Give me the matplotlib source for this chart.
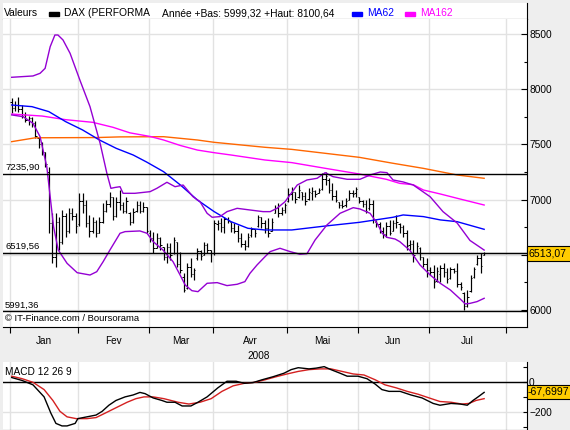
import matplotlib.pyplot as plt
from matplotlib.patches import Rectangle

plt.rcParams['font.family'] = ['Liberation Sans', 'DejaVu Sans']

W, H = 570, 430

# daily bars, DAX 2008 (trading-day index 0..140)
opens = [7880, 7830, 7860, 7820, 7770, 7720, 7740, 7690, 7560, 7500,
         7430, 7250, 6790, 6480, 6800, 6620, 6850, 6720, 6880, 6850,
         6780, 6990, 6950, 6790, 6720, 6800, 6700, 6800, 6900, 6960,
         7020, 6850, 6980, 6950, 6900, 6880, 6800, 6900, 6950, 6900,
         6930, 6700, 6650, 6560, 6650, 6570, 6480, 6570, 6520, 6620,
         6420, 6300, 6200, 6390, 6330, 6470, 6530, 6500, 6590, 6540,
         6520, 6780, 6790, 6750, 6820, 6800, 6740, 6720, 6650, 6600,
         6580, 6680, 6730, 6760, 6840, 6790, 6740, 6720, 6880, 6920,
         6880, 6910, 6990, 7050, 7070, 7020, 7070, 7030, 7010, 7060,
         7080, 7060, 7100, 7190, 7180, 7090, 7030, 6980, 6950, 6950,
         7000, 7060, 7060, 7020, 6990, 6960, 6920, 6960, 6800, 6780,
         6720, 6690, 6760, 6720, 6790, 6780, 6750, 6700, 6590, 6600,
         6520, 6560, 6480, 6420, 6360, 6340, 6260, 6330, 6380, 6340,
         6290, 6370, 6350, 6240, 6150, 6040, 6170, 6300, 6420, 6470,
         6500]
highs = [7917, 7890, 7932, 7860, 7790, 7760, 7750, 7710, 7570, 7520,
         7434, 7298, 6876, 6876, 6846, 6906, 6880, 6921, 6921, 6876,
         7057, 7057, 6997, 6861, 6846, 6816, 6846, 6966, 6997, 7072,
         7027, 7027, 7087, 6981, 7027, 6891, 6921, 6991, 6991, 6976,
         6936, 6725, 6710, 6695, 6665, 6574, 6604, 6604, 6665, 6620,
         6529, 6332, 6423, 6468, 6378, 6559, 6544, 6620, 6604, 6544,
         6816, 6816, 6831, 6846, 6846, 6800, 6785, 6770, 6695, 6635,
         6695, 6755, 6735, 6861, 6846, 6816, 6831, 6831, 6951, 6966,
         6936, 6966, 7102, 7117, 7072, 7132, 7072, 7072, 7102, 7117,
         7087, 7102, 7238, 7253, 7193, 7147, 7087, 6981, 6997, 7012,
         7087, 7087, 7117, 7027, 6997, 6997, 7012, 6997, 6816, 6800,
         6755, 6800, 6816, 6816, 6861, 6785, 6770, 6725, 6635, 6635,
         6620, 6574, 6484, 6468, 6393, 6408, 6393, 6408, 6423, 6378,
         6393, 6378, 6423, 6257, 6166, 6181, 6317, 6393, 6499, 6514,
         6528]
lows = [7781, 7800, 7797, 7740, 7700, 7680, 7660, 7555, 7470, 7400,
        7298, 6694, 6423, 6393, 6544, 6600, 6665, 6700, 6815, 6695,
        6760, 6876, 6755, 6665, 6695, 6665, 6695, 6785, 6890, 6936,
        6815, 6846, 6906, 6876, 6876, 6770, 6785, 6891, 6876, 6891,
        6695, 6620, 6514, 6560, 6544, 6453, 6423, 6453, 6510, 6393,
        6332, 6166, 6190, 6302, 6272, 6453, 6453, 6500, 6514, 6438,
        6499, 6725, 6710, 6695, 6785, 6710, 6695, 6620, 6574, 6544,
        6574, 6665, 6665, 6755, 6740, 6695, 6665, 6720, 6876, 6846,
        6861, 6876, 6981, 6997, 6966, 7012, 6997, 6951, 7000, 6997,
        7027, 7057, 7087, 7132, 7057, 6997, 6981, 6921, 6921, 6936,
        6997, 7027, 7027, 6966, 6936, 6876, 6906, 6785, 6755, 6695,
        6650, 6665, 6680, 6715, 6740, 6695, 6665, 6544, 6544, 6438,
        6514, 6453, 6393, 6302, 6317, 6197, 6250, 6257, 6302, 6242,
        6285, 6332, 6212, 6181, 5999, 6030, 6166, 6287, 6408, 6332,
        6499]
closes = [7830, 7860, 7820, 7760, 7720, 7740, 7690, 7580, 7500, 7430,
          7320, 6790, 6480, 6800, 6620, 6850, 6720, 6880, 6850, 6760,
          6990, 6950, 6790, 6720, 6800, 6700, 6800, 6900, 6960, 7020,
          6850, 6980, 6950, 6900, 6990, 6800, 6890, 6950, 6900, 6930,
          6720, 6650, 6560, 6650, 6590, 6480, 6570, 6500, 6630, 6420,
          6360, 6180, 6390, 6330, 6360, 6530, 6490, 6590, 6540, 6520,
          6790, 6790, 6750, 6820, 6810, 6740, 6720, 6650, 6600, 6580,
          6660, 6730, 6700, 6840, 6790, 6740, 6700, 6800, 6920, 6880,
          6910, 6950, 7050, 7070, 7010, 7090, 7030, 6990, 7070, 7080,
          7050, 7090, 7190, 7210, 7090, 7030, 7000, 6950, 6940, 6990,
          7060, 7050, 7100, 6990, 6960, 6900, 6960, 6820, 6780, 6720,
          6690, 6760, 6700, 6790, 6800, 6750, 6700, 6580, 6600, 6500,
          6580, 6480, 6420, 6360, 6340, 6250, 6350, 6380, 6340, 6280,
          6370, 6350, 6240, 6210, 6040, 6120, 6290, 6370, 6470, 6400,
          6513.07]

# moving averages / bands (bar index, value)
ma62_x = [0, 6, 11, 16, 21, 26, 31, 36, 40, 45, 50, 55, 60, 65, 70, 75,
          83, 93, 103, 113, 116, 122, 127, 132, 140]
ma62_y = [7857, 7842, 7797, 7706, 7631, 7540, 7464, 7404, 7340, 7253, 7132,
          6997, 6891, 6800, 6740, 6725, 6725, 6761, 6794, 6840, 6861, 6846,
          6816, 6800, 6731]
ma162_x = [0, 9, 16, 24, 30, 35, 41, 45, 50, 55, 60, 65, 75, 83, 93, 103,
           111, 115, 119, 122, 127, 132, 140]
ma162_y = [7775, 7757, 7724, 7700, 7655, 7605, 7572, 7540, 7490, 7449, 7425,
           7404, 7359, 7335, 7283, 7232, 7184, 7147, 7135, 7087, 7051, 7012,
           6951]
ma_orange_x = [0, 7, 25, 32, 45, 55, 60, 68, 75, 83, 93, 103, 113, 122,
               132, 140]
ma_orange_y = [7525, 7560, 7562, 7568, 7570, 7540, 7519, 7495, 7474, 7455,
               7419, 7383, 7329, 7283, 7223, 7193]
bb_up_x = [0, 6.3, 8.4, 9.9, 11.4, 12.8, 13.7, 15.2, 17.3, 20.2, 23.2, 26.2,
           28.2, 29.4, 30.6, 32.1, 33, 36.5, 41, 43, 46, 48.4, 50.8, 53.7,
           55.8, 57.9, 59.4, 61.7, 63.8, 66.8, 70.6, 74.5, 76.6, 78.6, 81,
           84.6, 87.5, 90.5, 92.9, 95.2, 99.4, 103.2, 106.2, 109.2, 111.2,
           113, 116, 119, 124, 127.8, 132, 135.8, 140]
bb_up_y = [8108, 8120, 8144, 8189, 8385, 8491, 8491, 8446, 8325, 8083, 7842,
           7510, 7238, 7102, 7110, 7117, 7057, 7057, 7072, 7102, 7157, 7117,
           7132, 7027, 6981, 6876, 6840, 6846, 6891, 6921, 6906, 6891, 6891,
           6921, 6981, 7132, 7178, 7193, 7244, 7208, 7184, 7184, 7223, 7250,
           7244, 7178, 7160, 7132, 7026, 6891, 6788, 6630, 6543]
bb_lo_x = [0, 3.4, 6.3, 8.4, 10.4, 11.4, 12.4, 13.8, 16.4, 19.4, 23.2, 25.2,
           27.1, 29.1, 32.1, 33.6, 38, 40.1, 41.9, 44.8, 47.8, 49.9, 51.4,
           53.4, 55.2, 57.9, 60.9, 63.8, 66.8, 69.1, 70.6, 72.7, 75.1, 76.6,
           79.5, 82.5, 85.4, 87.5, 89.9, 93.4, 97.3, 101.2, 103.2, 106.2,
           108.3, 109.8, 111.2, 113.6, 115, 118, 121, 124, 127, 130, 133,
           134.4, 135.8, 137.9, 140]
bb_lo_y = [7767, 7751, 7691, 7570, 7298, 7026, 6755, 6543, 6423, 6338, 6317,
           6347, 6438, 6543, 6695, 6710, 6716, 6695, 6620, 6544, 6438, 6317,
           6227, 6175, 6166, 6242, 6248, 6221, 6233, 6257, 6332, 6408, 6484,
           6529, 6559, 6529, 6505, 6510, 6634, 6770, 6876, 6927, 6915, 6876,
           6785, 6695, 6658, 6643, 6619, 6540, 6408, 6317, 6242, 6181, 6097,
           6055, 6060, 6076, 6106]

# MACD 12 26 9
macd_x = [0, 3.1, 6.3, 9.6, 11.6, 13.1, 14.9, 16.4, 18.8, 19.6, 22.3, 25,
          26.8, 28.8, 30.9, 33.6, 36, 38, 39.5, 41.9, 44.5, 46, 48.4, 50.5,
          53.1, 55.2, 57.9, 61.1, 63.8, 66.5, 68.9, 71.5, 74.2, 77.4, 80.7,
          82.8, 84.9, 88.1, 90.2, 92.6, 94.6, 97.3, 99.4, 102.6, 105.3, 107.7,
          109.7, 111.8, 115.1, 118.3, 121.6, 124.9, 126.9, 130.2, 132.9, 135,
          136.7, 138.2, 140]
macd_y = [32, 12, -17, -98, -207, -276, -293, -293, -276, -244, -232, -220,
          -195, -154, -122, -98, -85, -68, -76, -105, -122, -134, -134, -159,
          -159, -134, -98, -37, 7, 7, -7, -2, 17, 37, 61, 85, 98, 90, 95, 105,
          85, 61, 41, 41, 24, -12, -49, -61, -61, -85, -105, -142, -154, -142,
          -146, -154, -122, -98, -67.6997]
signal_x = [0, 3.1, 6.3, 9.6, 12.2, 14.3, 16.4, 19.1, 22.3, 25, 27.7, 30.9,
            34.2, 36.8, 39.2, 41.9, 45.1, 49.3, 52.5, 55.8, 59.1, 62.3, 65.6,
            68.9, 72.1, 75.1, 78.3, 81.6, 84.9, 88.1, 91.4, 94.6, 97.9, 101.2,
            104.4, 107.7, 110.6, 113.9, 117.2, 120.4, 123.7, 126.9, 130.2,
            133.4, 135.5, 137.6, 140]
signal_y = [41, 24, 0, -49, -122, -195, -232, -244, -244, -237, -207, -171,
            -134, -110, -98, -98, -110, -134, -146, -134, -110, -61, -24, -7,
            0, 17, 37, 56, 73, 85, 90, 90, 73, 56, 49, 17, -17, -37, -61, -80,
            -105, -129, -134, -146, -142, -122, -110]

month_first_bar = [0, 20, 41, 60, 82, 103, 124, 147]
month_names = ['Jan', 'Fev', 'Mar', 'Avr', 'Mai', 'Jun', 'Jul']
price_ticks = [6000, 6500, 7000, 7500, 8000, 8500]
# 6500 sits under the last-price box, so it is left blank
price_tick_labels = ['6000', '', '7000', '7500', '8000', '8500']
ref_levels = [7235.90, 6519.56, 5991.36]
ref_labels = ['7235,90', '6519,56', '5991,36']
last_price = 6513.07
last_macd = -67.6997

BG = '#eeeeee'
GRID = '#e2e2e2'
PURPLE = '#9400d3'
FS = 7.3
PX = 0.72  # one pixel in points


def fx(x):
    return x / W


def fy(y):
    return 1 - y / H


fig = plt.figure(figsize=(W / 100, H / 100), dpi=100, facecolor=BG)

# header strip
hdr = fig.add_axes([fx(3), fy(19), (527 - 3) / W, 16 / H])
hdr.set_xticks([])
hdr.set_yticks([])
for s in ['top', 'left']:
    hdr.spines[s].set_visible(False)

# main price panel
ax = fig.add_axes([fx(3), fy(327), (527 - 3) / W, (327 - 19) / H])
ax.set_xlim(-2.58, 152.7)
ax.set_ylim(5846, 8636)
ax.spines['left'].set_visible(False)
ax.spines['top'].set_visible(False)
ax.set_axisbelow(True)

bounds = [b - 0.4 for b in month_first_bar]
ax.set_xticks(bounds)
ax.set_xticklabels([])
ax.tick_params(axis='x', direction='out', length=4.5, width=0.8)
ax.yaxis.tick_right()
ax.set_yticks(price_ticks)
ax.set_yticklabels(price_tick_labels)
ax.set_yticks([6250, 6750, 7250, 7750, 8250], minor=True)
ax.tick_params(axis='y', which='major', direction='in', length=4, width=0.8,
               pad=1.5, labelsize=FS)
ax.tick_params(axis='y', which='minor', direction='in', length=2.5, width=0.8)
ax.grid(True, which='major', color=GRID, lw=1)

# OHLC bars: high-low stem, open tick left, close tick right
idx = list(range(len(closes)))
ax.vlines(idx, lows, highs, color='black', lw=PX * 1.2)
ax.hlines(opens, [i - 0.42 for i in idx], idx, color='black', lw=PX)
ax.hlines(closes, idx, [i + 0.42 for i in idx], color='black', lw=PX)

ax.plot(ma_orange_x, ma_orange_y, color='#ff6600', lw=1)
ax.plot(ma162_x, ma162_y, color='#ff00ff', lw=1)
ax.plot(ma62_x, ma62_y, color='#0000ff', lw=1)
ax.plot(bb_up_x, bb_up_y, color=PURPLE, lw=1)
ax.plot(bb_lo_x, bb_lo_y, color=PURPLE, lw=1)

for lvl, lab in zip(ref_levels, ref_labels):
    ax.axhline(lvl, color='black', lw=1)
    ax.annotate(lab, xy=(0.004, lvl), xycoords=('axes fraction', 'data'),
                xytext=(0, 2.6), textcoords='offset points', va='baseline',
                fontsize=6.8)
ax.axhline(last_price, color='black', lw=0.8)

ax.text(0.004, 0.018, '\u00a9 IT-Finance.com / Boursorama', transform=ax.transAxes,
        fontsize=6.8, va='baseline')

tr = ax.get_xaxis_transform()
for k, name in enumerate(month_names):
    mid = (bounds[k] + bounds[k + 1]) / 2
    ax.text(mid, -0.0455, name, transform=tr, ha='center', va='center',
            fontsize=7.2)
ax.text(0.487, -0.093, '2008', transform=ax.transAxes, ha='center',
        va='center', fontsize=7.2)

# MACD panel
mx = fig.add_axes([fx(3), fy(429.5), (527 - 3) / W, (429.5 - 361.5) / H],
                  sharex=ax)
mx.set_ylim(-317, 139.6)
mx.spines['left'].set_visible(False)
mx.spines['top'].set_visible(False)
mx.set_axisbelow(True)
mx.tick_params(axis='x', length=0, labelbottom=False)
mx.yaxis.tick_right()
mx.set_yticks([0, -200])
mx.set_yticks([100, -100, -300], minor=True)
mx.tick_params(axis='y', which='major', direction='in', length=3, width=0.8,
               pad=1.5, labelsize=FS)
mx.tick_params(axis='y', which='minor', direction='in', length=3, width=0.8)
mx.grid(True, which='major', color=GRID, lw=1)
mx.axhline(0, color='black', lw=1)
mx.plot(signal_x, signal_y, color='#d42020', lw=1)
mx.plot(macd_x, macd_y, color='black', lw=1)
mx.text(0.003, 0.84, 'MACD 12 26 9', transform=mx.transAxes, fontsize=FS,
        va='center')

# header legend
fig.text(fx(3.5), fy(16.5), 'Valeurs', fontsize=7.4, va='baseline')
fig.add_artist(Rectangle((fx(49), fy(15.5)), 9.5 / W, 3.5 / H,
                         transform=fig.transFigure, color='black'))
fig.text(fx(64.5), fy(16.5), 'DAX (PERFORMA', fontsize=7.4, va='baseline')
fig.text(fx(162), fy(16.5), 'Année +Bas: 5999,32 +Haut: 8100,64',
         fontsize=7.4, va='baseline')
fig.add_artist(Rectangle((fx(352), fy(15.5)), 9.5 / W, 3.5 / H,
                         transform=fig.transFigure, color='#0000ff'))
fig.text(fx(367), fy(16.5), 'MA62', fontsize=7.4, va='baseline', color='#0000ff')
fig.add_artist(Rectangle((fx(405), fy(15.5)), 9.5 / W, 3.5 / H,
                         transform=fig.transFigure, color='#ff00ff'))
fig.text(fx(420), fy(16.5), 'MA162', fontsize=7.4, va='baseline',
         color='#ff00ff')

# last value boxes
fig.add_artist(Rectangle((fx(527), fy(260.5)), 45 / W, 14.5 / H,
                         transform=fig.transFigure, facecolor='#ffcc00',
                         edgecolor='black', lw=0.8))
fig.text(fx(528.5), fy(253.5), '6513,07', fontsize=7.6, va='center')
fig.add_artist(Rectangle((fx(526.5), fy(399)), 45 / W, 14 / H,
                         transform=fig.transFigure, facecolor='#ffcc00',
                         edgecolor='black', lw=0.8))
fig.text(fx(527.5), fy(392), '-67,6997', fontsize=7.6, va='center')

fig.savefig('out.png', dpi=100, facecolor=BG)
